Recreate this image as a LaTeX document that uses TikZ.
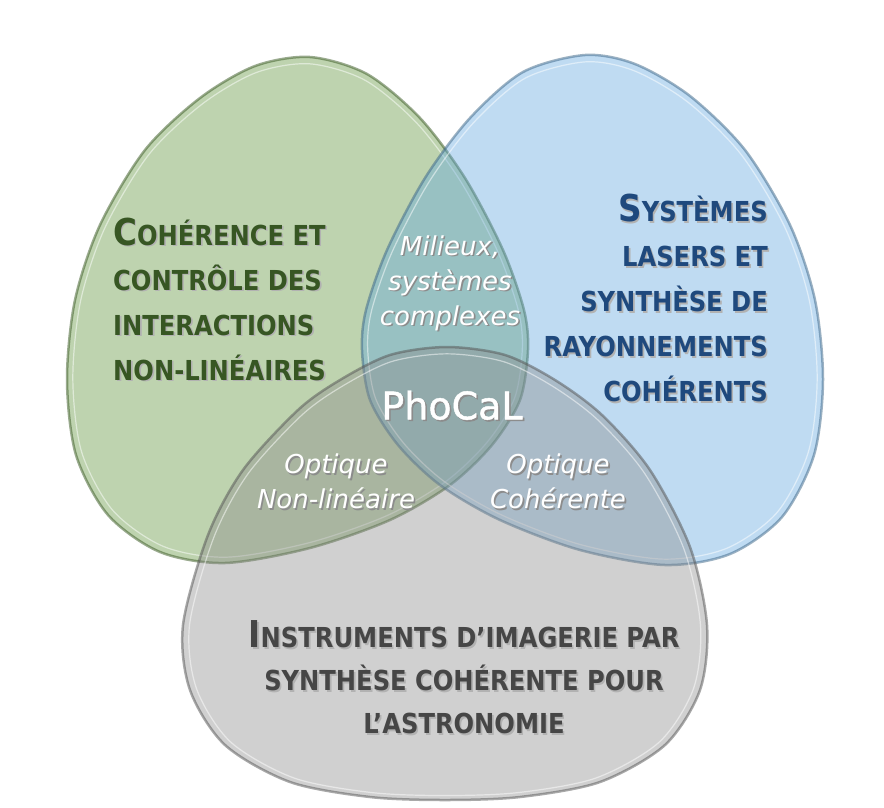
\documentclass[tikz,border=0pt]{standalone}
\usepackage{fontspec}
\setmainfont{DejaVu Sans}
\newfontfamily\headfont{DejaVu Sans}[FakeStretch=0.88]
\newfontfamily\titlefont{DejaVu Sans}[FakeBold=1.2]
\usepackage{tikz}
\usetikzlibrary{positioning}

\definecolor{eggGreen}{RGB}{92,145,55}
\definecolor{eggBlue}{RGB}{96,166,223}
\definecolor{eggGray}{RGB}{138,138,138}
\definecolor{headGreen}{RGB}{55,86,35}
\definecolor{headBlue}{RGB}{31,73,125}
\definecolor{headGray}{RGB}{70,70,70}

\newcommand{\initcap}[1]{{\fontsize{37}{37}\selectfont #1}}
\newcommand{\shadowed}[2]{\makebox[0pt][l]{\hspace{1.6pt}\raisebox{-1.6pt}{\color{#1}#2}}#2}
\newcommand{\hs}[1]{\shadowed{black!30}{#1}}
\newcommand{\ws}[1]{\shadowed{black!45}{#1}}

% egg outlines (pixel coordinates, y downwards)
\newcommand{\eggGreenPath}{plot[smooth cycle] coordinates {(310,57) (367,74) (420,118) (465,178) (503,250) (524,310) (528,350) (520,400) (492,445) (450,485) (390,520) (310,548) (225,563) (160,552) (108,515) (76,455) (67,380) (75,300) (100,225) (145,150) (200,98) (255,66)}}
\newcommand{\eggBluePath}{plot[smooth cycle] coordinates {(585,55) (523,72) (470,118) (425,178) (387,250) (366,310) (362,350) (370,400) (398,445) (440,485) (500,520) (580,550) (665,565) (730,554) (782,517) (814,455) (823,380) (815,300) (790,225) (745,150) (690,96) (635,64)}}
\newcommand{\eggGrayPath}{plot[smooth cycle] coordinates {(447,347) (505,355) (555,380) (602,415) (650,470) (690,547) (707,625) (700,690) (665,745) (600,782) (520,797) (445,800) (370,797) (290,782) (225,745) (190,690) (183,625) (208,535) (243,470) (298,410) (340,380) (390,355)}}

\tikzset{
  egg/.style={fill opacity=0.4, draw opacity=0.5, line width=2.5pt},
  rim/.style={draw=white, draw opacity=0.5, line width=1.2pt},
  head/.style={font=\headfont\bfseries\fontsize{27.5}{45}\selectfont, inner sep=0pt},
  lens/.style={text=white, font=\itshape\fontsize{26}{35}\selectfont, align=center, inner sep=0pt}
}

\begin{document}
\begin{tikzpicture}[x=1pt,y=-1pt]
\useasboundingbox (0,0) rectangle (884,807);

% the three eggs
\filldraw[egg, fill=eggGreen, draw=eggGreen!60!black] \eggGreenPath;
\draw[rim, scale around={0.975:(300,330)}] \eggGreenPath;
\filldraw[egg, fill=eggBlue, draw=eggBlue!60!black] \eggBluePath;
\draw[rim, scale around={0.975:(590,330)}] \eggBluePath;
\filldraw[egg, fill=eggGray, draw=eggGray!60!black] \eggGrayPath;
\draw[rim, scale around={0.975:(445,620)}] \eggGrayPath;

% titles
\node[head, text=headGreen, align=left, anchor=west] (coherence) at (113,300)
  {\hs{\initcap{C}OHÉRENCE ET}\\ \hs{CONTRÔLE DES}\\ \hs{INTERACTIONS}\\ \hs{NON-LINÉAIRES}};
\node[head, text=headBlue, align=right, anchor=east] (lasers) at (768,299)
  {\hs{\initcap{S}YSTÈMES}\\ \hs{LASERS ET}\\ \hs{SYNTHÈSE DE}\\ \hs{RAYONNEMENTS}\\ \hs{COHÉRENTS}};
\node[head, text=headGray, align=center, font=\headfont\bfseries\fontsize{27.5}{43}\selectfont] (instruments) at (464,678)
  {\hs{\initcap{I}NSTRUMENTS D’IMAGERIE PAR}\\ \hs{SYNTHÈSE COHÉRENTE POUR}\\ \hs{L’ASTRONOMIE}};

% overlaps
\node[lens] (milieux) at (450,284) {\ws{Milieux,}\\ \ws{systèmes}\\ \ws{complexes}};
\node[lens] (nonlin) at (336,482) {\ws{Optique}\\ \ws{Non-linéaire}};
\node[lens] (cohoptic) at (558,482) {\ws{Optique}\\ \ws{Cohérente}};
\node[text=white, font=\titlefont\fontsize{38}{38}\selectfont, inner sep=0pt] (phocal) at (452,406) {\ws{PhoCaL}};
\end{tikzpicture}
\end{document}
